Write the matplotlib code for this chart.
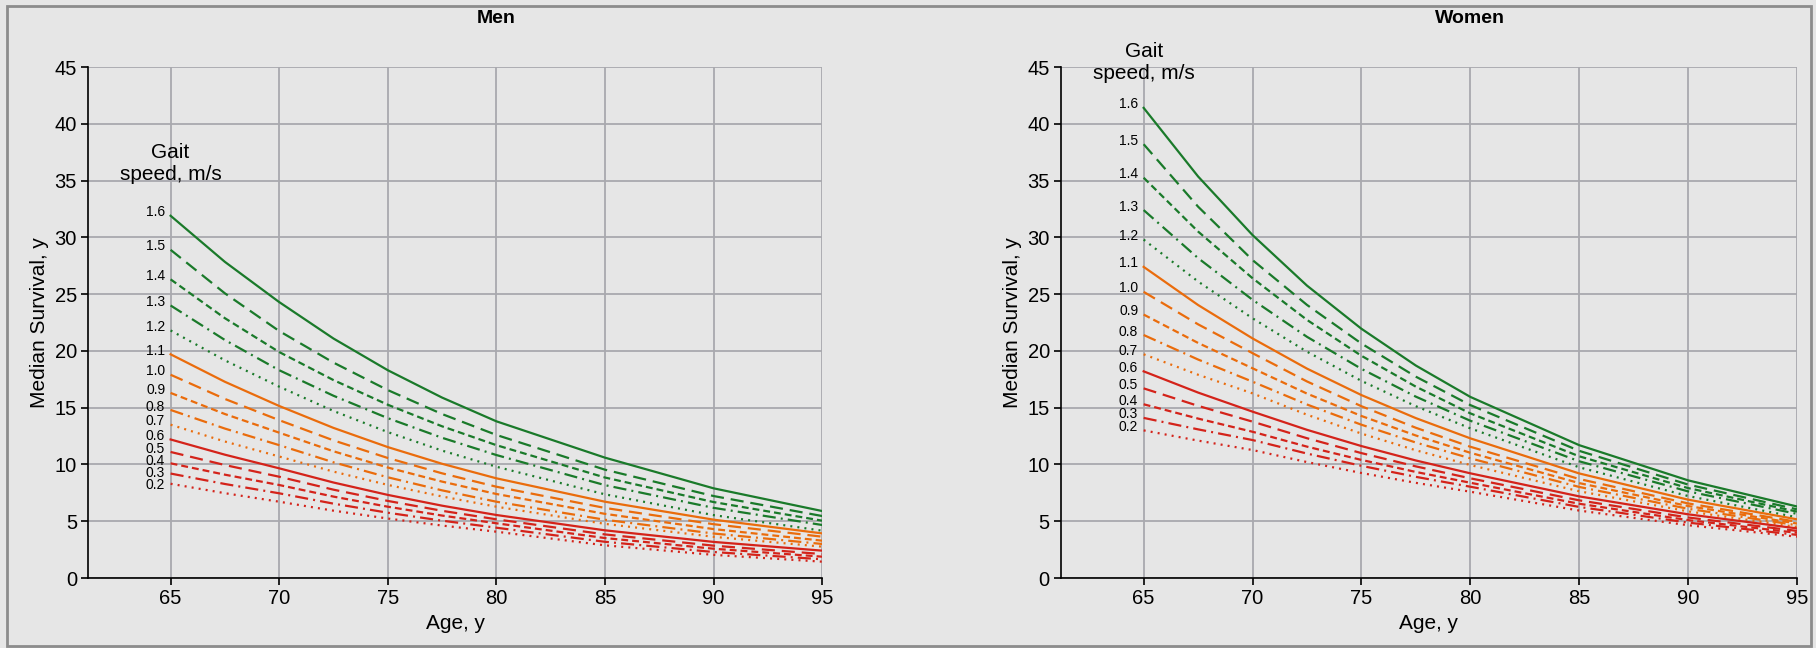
import matplotlib.pyplot as plt
import matplotlib.transforms as mtransforms
from matplotlib.patches import Rectangle

plt.rcParams['font.family'] = ['Liberation Sans', 'DejaVu Sans']

# ages on the x axis
ages = [65, 67.5, 70, 72.5, 75, 77.5, 80, 85, 90, 95]

# gait speed of each curve, fastest first
gait_speeds = ['1.6', '1.5', '1.4', '1.3', '1.2', '1.1', '1.0', '0.9', '0.8', '0.7', '0.6', '0.5', '0.4', '0.3', '0.2']

# median survival (years) for men, one row per gait speed
men_survival = [
    [31.9, 27.84, 24.3, 21.09, 18.3, 15.89, 13.8, 10.6, 7.9, 5.9],
    [28.9, 25.07, 21.75, 18.97, 16.55, 14.44, 12.6, 9.54, 7.22, 5.46],
    [26.3, 22.88, 19.9, 17.43, 15.26, 13.36, 11.7, 8.85, 6.69, 5.05],
    [24.0, 20.96, 18.3, 16.05, 14.08, 12.35, 10.83, 8.18, 6.18, 4.67],
    [21.8, 19.17, 16.85, 14.71, 12.85, 11.22, 9.8, 7.37, 5.54, 4.17],
    [19.7, 17.28, 15.15, 13.22, 11.53, 10.06, 8.78, 6.72, 5.14, 3.93],
    [17.9, 15.77, 13.9, 12.12, 10.57, 9.22, 8.04, 6.17, 4.74, 3.64],
    [16.3, 14.44, 12.8, 11.16, 9.73, 8.49, 7.4, 5.65, 4.31, 3.29],
    [14.8, 13.16, 11.7, 10.19, 8.87, 7.72, 6.72, 5.13, 3.92, 3.0],
    [13.5, 12.02, 10.7, 9.37, 8.2, 7.18, 6.28, 4.77, 3.63, 2.76],
    [12.2, 10.86, 9.66, 8.41, 7.32, 6.37, 5.55, 4.2, 3.18, 2.41],
    [11.1, 9.95, 8.92, 7.78, 6.79, 5.92, 5.17, 3.84, 2.85, 2.11],
    [10.1, 9.10, 8.19, 7.17, 6.28, 5.50, 4.82, 3.52, 2.58, 1.88],
    [9.2, 8.28, 7.46, 6.55, 5.75, 5.05, 4.43, 3.19, 2.29, 1.65],
    [8.3, 7.47, 6.72, 5.93, 5.24, 4.62, 4.08, 2.88, 2.04, 1.44],
]

# median survival (years) for women, one row per gait speed
women_survival = [
    [41.4, 35.36, 30.2, 25.75, 21.95, 18.71, 15.95, 11.7, 8.6, 6.3],
    [38.2, 32.70, 28.0, 24.05, 20.65, 17.73, 15.23, 11.2, 8.23, 6.05],
    [35.25, 30.51, 26.4, 22.73, 19.57, 16.85, 14.5, 10.72, 7.92, 5.85],
    [32.4, 28.17, 24.5, 21.24, 18.42, 15.97, 13.85, 10.28, 7.63, 5.65],
    [29.8, 26.11, 22.87, 19.93, 17.36, 15.13, 13.18, 9.75, 7.22, 5.35],
    [27.4, 24.04, 21.1, 18.44, 16.11, 14.08, 12.3, 9.21, 6.9, 5.17],
    [25.2, 22.34, 19.8, 17.31, 15.13, 13.23, 11.56, 8.72, 6.57, 4.95],
    [23.2, 20.70, 18.47, 16.24, 14.27, 12.55, 11.03, 8.36, 6.34, 4.8],
    [21.4, 19.24, 17.29, 15.28, 13.5, 11.93, 10.54, 8.02, 6.1, 4.65],
    [19.7, 17.90, 16.26, 14.38, 12.72, 11.25, 9.95, 7.64, 5.87, 4.5],
    [18.2, 16.33, 14.65, 13.05, 11.62, 10.35, 9.22, 7.19, 5.61, 4.37],
    [16.7, 15.16, 13.77, 12.31, 11.0, 9.83, 8.78, 6.84, 5.33, 4.15],
    [15.3, 14.04, 12.88, 11.57, 10.4, 9.34, 8.39, 6.54, 5.1, 3.98],
    [14.1, 13.09, 12.15, 10.96, 9.88, 8.91, 8.04, 6.26, 4.88, 3.8],
    [13.0, 12.10, 11.27, 10.21, 9.25, 8.38, 7.6, 5.94, 4.65, 3.64],
]

group_colors = ['#1a7a2a', '#ea6c0c', '#d4231a'] # green, orange, red
line_styles = ['-', (0, (5.9, 3.1)), (0, (3.1, 1.8)), (0, (5.9, 2.3, 0.9, 2.3)), (0, (0.9, 2.3))] # solid, long dash, dash, dash-dot, dotted
bg = '#e6e6e6'

fig = plt.figure(figsize=(18.16, 6.48), dpi=100, facecolor=bg)
fig.patches.append(Rectangle((0.0039, 0.003), 0.9933, 0.9877, transform=fig.transFigure,
                             fill=False, edgecolor='#8c8c8c', lw=2)) # frame round the figure

ax_men = fig.add_axes([0.0485, 0.108, 0.4042, 0.7886])
ax_women = fig.add_axes([0.5842, 0.108, 0.4053, 0.7886])


def draw_panel(ax, survival, title, label_y): # draw one panel of curves
    prev = None
    for i, values in enumerate(survival):
        ax.plot(ages, values, color=group_colors[i // 5], linestyle=line_styles[i % 5], lw=1.6)
        y = values[0] + 0.3 # label sits just above the start of its curve
        if prev is not None:
            y = min(y, prev - 1.08) # keep crowded labels apart
        prev = y
        ax.text(64.75, y, gait_speeds[i], ha='right', va='center', fontsize=10)
    ax.text(65, label_y, 'Gait\nspeed, m/s', ha='center', va='center', fontsize=15, linespacing=1.25)

    ax.set_xlim(61.2, 95)
    ax.set_ylim(0, 45)
    ax.set_xticks(range(65, 96, 5))
    ax.set_yticks(range(0, 46, 5))
    ax.set_facecolor(bg)
    ax.grid(color='#a9a9ae', lw=1.3)
    ax.set_axisbelow(True)
    ax.spines['top'].set_visible(False)
    ax.spines['right'].set_visible(False)
    ax.spines['left'].set_linewidth(1.2)
    ax.spines['bottom'].set_linewidth(1.2)
    ax.tick_params(direction='out', length=5, width=1.2, labelsize=14.5, pad=3)
    ax.set_xlabel('Age, y', fontsize=15, labelpad=4)
    ax.set_ylabel('Median Survival, y', fontsize=15)

    trans = mtransforms.blended_transform_factory(ax.transData, fig.transFigure)
    ax.text(80, 0.972, title, transform=trans, ha='center', va='center', fontsize=14, fontweight='bold')


draw_panel(ax_men, men_survival, 'Men', 36.5)
draw_panel(ax_women, women_survival, 'Women', 45.4)

fig.savefig('out.png', dpi=100, facecolor=bg)
